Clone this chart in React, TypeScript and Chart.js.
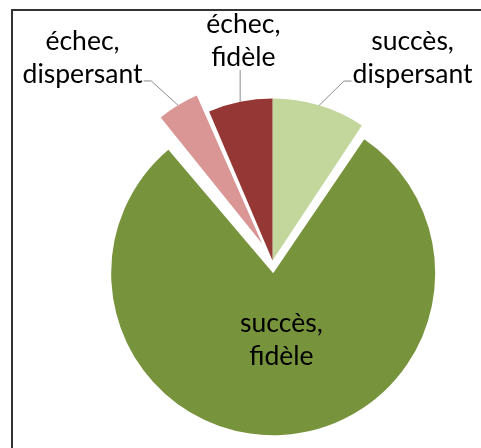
import React, { useEffect, useRef } from "react";
import { Chart, registerables } from "chart.js";

Chart.register(...registerables);

// ---- data ----
const categories = ["succès, dispersant", "succès, fidèle", "échec, dispersant", "échec, fidèle"];
const labelLines = [
  ["succès,", "dispersant"],
  ["succès,", "fidèle"],
  ["échec,", "dispersant"],
  ["échec,", "fidèle"],
];
const values = [9.3, 79.7, 4.6, 6.4];
const explode = [0, 51, 79, 0];
const colors = ["#C3D69B", "#77933C", "#D99694", "#953735"];

// ---- label layout (relative to each slice's outer mid point / centre) ----
type LabelSpec = {
  inside: boolean;
  tx: number; // text centre x offset
  b1: number; // first baseline offset
  b2: number; // second baseline offset
  elbow?: [number, number];
  tail?: number;
};
const labelSpecs: LabelSpec[] = [
  { inside: false, tx: 93.4, b1: -55.7, b2: -22.3, elbow: [24.7, -24.3], tail: 7.7 },
  { inside: true, tx: 8.2, b1: 58.5, b2: 91.8 },
  { inside: false, tx: -95.5, b1: -55.7, b2: -22.3, elbow: [-26.8, -24.3], tail: -7.7 },
  { inside: false, tx: 3.2, b1: -68.7, b2: -35.7, elbow: [0, -31.7], tail: 0 },
];

const FAMILY = "Lato";
const TARGET_WORD = "dispersant";
const TARGET_WIDTH = 120;

const radiusFix = {
  id: "radiusFix",
  beforeDatasetsDraw(chart: any) {
    const meta = chart.getDatasetMeta(0);
    const ctrl: any = meta.controller;
    meta.data.forEach((arc: any) => {
      const o = (arc.options.offset || 0) / 4;
      const fix = 1 - Math.sin(Math.min(Math.PI, arc.circumference || 0));
      arc.outerRadius = ctrl.outerRadius - o * fix;
    });
  },
};

const sliceLabels = {
  id: "sliceLabels",
  afterDatasetsDraw(chart: any) {
    const meta = chart.getDatasetMeta(0);
    const ctrl: any = meta.controller;
    const ctx: CanvasRenderingContext2D = chart.ctx;
    ctx.save();
    ctx.font = `100px ${FAMILY}`;
    const size = (100 * TARGET_WIDTH) / ctx.measureText(TARGET_WORD).width;
    ctx.font = `${size.toFixed(2)}px ${FAMILY}`;
    ctx.textAlign = "center";
    ctx.textBaseline = "alphabetic";
    meta.data.forEach((arc: any, i: number) => {
      const spec = labelSpecs[i];
      const mid = (arc.startAngle + arc.endAngle) / 2;
      const o = (arc.options.offset || 0) / 4;
      const cx = arc.x + Math.cos(mid) * o;
      const cy = arc.y + Math.sin(mid) * o;
      const r = ctrl.outerRadius;
      const px = cx + Math.cos(mid) * r;
      const py = cy + Math.sin(mid) * r;
      const bx = spec.inside ? cx : px;
      const by = spec.inside ? cy : py;
      if (!spec.inside && spec.elbow) {
        ctx.strokeStyle = "#8c8c8c";
        ctx.lineWidth = 1;
        ctx.beginPath();
        ctx.moveTo(px, py);
        const ex = px + spec.elbow[0];
        const ey = py + spec.elbow[1];
        ctx.lineTo(ex, ey);
        ctx.lineTo(ex + (spec.tail || 0), ey);
        ctx.stroke();
      }
      ctx.fillStyle = "#000000";
      const lines = labelLines[i];
      ctx.fillText(lines[0], bx + spec.tx, by + spec.b1);
      ctx.fillText(lines[1], bx + spec.tx, by + spec.b2);
    });
    ctx.restore();
  },
};

export default function App() {
  const ref = useRef<HTMLCanvasElement | null>(null);
  useEffect(() => {
    if (!ref.current) return;
    const chart = new Chart(ref.current, {
      type: "pie",
      data: {
        labels: categories,
        datasets: [
          {
            data: values,
            backgroundColor: colors,
            borderWidth: 0,
            offset: explode,
          } as any,
        ],
      },
      options: {
        animation: false,
        responsive: false,
        devicePixelRatio: 1,
        events: [],
        radius: 162,
        layout: { padding: { left: 100, right: 36, top: 100, bottom: 27 } },
        plugins: {
          legend: { display: false },
          tooltip: { enabled: false },
        },
      } as any,
      plugins: [radiusFix, sliceLabels],
    });
    return () => chart.destroy();
  }, []);

  return (
    <div
      style={{
        position: "fixed",
        left: 0,
        top: 0,
        width: 481,
        height: 448,
        overflow: "hidden",
        background: "#ffffff",
      }}
    >
      <div
        style={{
          position: "absolute",
          left: 11,
          top: 9,
          width: 500,
          height: 500,
          borderLeft: "2px solid #333333",
          borderTop: "2px solid #333333",
        }}
      />
      <canvas
        ref={ref}
        width={481}
        height={448}
        style={{ position: "absolute", left: 0, top: 0, width: 481, height: 448 }}
      />
    </div>
  );
}
